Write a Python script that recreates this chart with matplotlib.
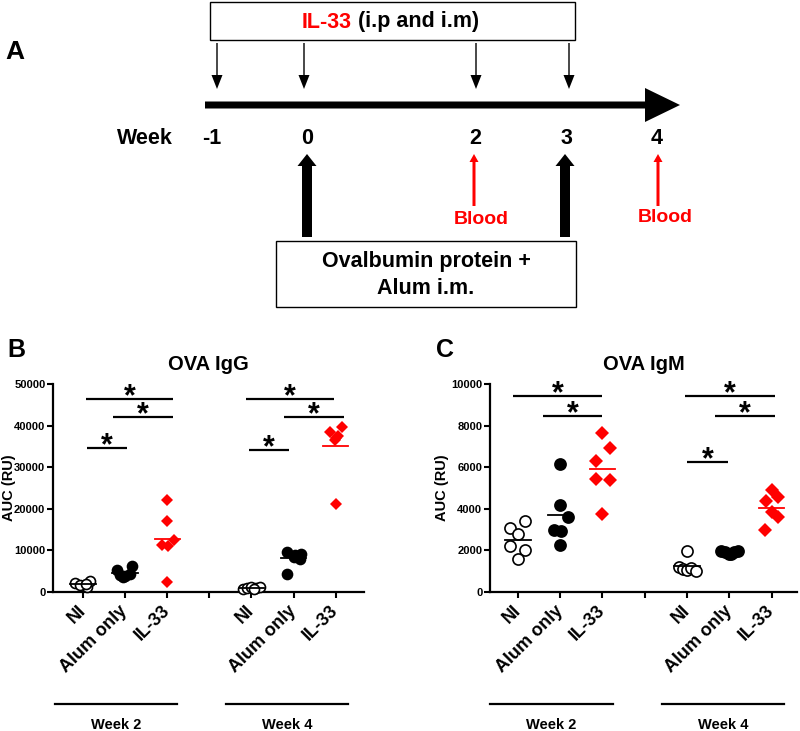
import matplotlib
matplotlib.use("Agg")
import matplotlib.pyplot as plt
from matplotlib.patches import FancyArrow, Rectangle
from matplotlib.lines import Line2D
import numpy as np

plt.rcParams['font.family'] = ['Liberation Sans', 'DejaVu Sans']
plt.rcParams['font.weight'] = 'bold'

# ---------------- data ----------------
groups = ["NI", "Alum only", "IL-33"]
weeks = ["Week 2", "Week 4"]

igg_w2_ni = [2200, 1500, 1200, 2600, 1800, 2000]
igg_w2_alum = [5400, 6200, 4000, 3800, 3500, 4400]
igg_w2_il33 = [22100, 17100, 12500, 11200, 11000, 2300]
igg_w4_ni = [800, 1000, 1200, 900, 1300, 700]
igg_w4_alum = [9700, 9200, 4300, 8400, 7900, 9000]
igg_w4_il33 = [39700, 38500, 37500, 36600, 37000, 21200]

igm_w2_ni = [3400, 3100, 2800, 2200, 2000, 1600]
igm_w2_alum = [6150, 4200, 3600, 3000, 2950, 2250]
igm_w2_il33 = [7650, 6920, 6300, 5450, 5370, 3770]
igm_w4_ni = [1950, 1200, 1100, 1050, 1150, 1000]
igm_w4_alum = [1950, 1900, 1850, 1900, 1950, 1850]
igm_w4_il33 = [4880, 4580, 4380, 3830, 3600, 3000]

# significance brackets: (x_start, x_end, y)
igg_sig = [(1.07, 3.14, 46300), (1.71, 3.14, 42000), (1.10, 2.05, 34600),
           (4.88, 6.95, 46300), (5.76, 7.19, 42000), (4.93, 5.90, 34200)]
igm_sig = [(0.88, 3.0, 9410), (1.59, 3.0, 8480),
           (4.95, 7.08, 9400), (5.66, 7.08, 8480), (5.0, 5.96, 6250)]

timeline_weeks = ["-1", "0", "2", "3", "4"]

# ---------------- style / layout ----------------
RED = '#ff0000'
W = 800; H = 731
fig = plt.figure(figsize=(8.0, 7.31), dpi=100)

# jitter patterns (layout only)
J_B = [
    [-0.18, 0.0, 0.1, 0.17, -0.08, 0.08],
    [-0.18, 0.16, -0.12, 0.0, -0.04, 0.12],
    [0.0, 0.0, 0.15, -0.12, 0.03, 0.0],
    [-0.2, -0.1, 0.0, 0.1, 0.2, 0.05],
    [-0.16, 0.18, -0.16, 0.0, 0.14, 0.03],
    [0.14, -0.14, 0.06, -0.02, 0.0, 0.0],
]
J_C = [
    [0.17, -0.18, 0.0, -0.18, 0.17, 0.0],
    [0.0, 0.0, 0.18, -0.15, 0.02, 0.0],
    [0.0, 0.17, -0.16, -0.16, 0.17, 0.0],
    [0.0, -0.2, -0.1, 0.0, 0.1, 0.2],
    [-0.2, -0.1, 0.0, 0.1, 0.2, 0.05],
    [0.0, 0.16, -0.14, 0.0, 0.16, -0.16],
]

POS = [1, 2, 3, 5, 6, 7]


def px_axes(left, right, top, bottom):
    return [left / W, 1 - bottom / H, (right - left) / W, (bottom - top) / H]


def draw_panel(ax, series, jit, sig, ymax, ystep, title, letter, letter_x, msize,
               label_right_px, ax_left_px, ax_width_px):
    styles = [dict(marker='o', mfc='white', mec='black', mew=1.2, ms=msize),
              dict(marker='o', mfc='black', mec='black', mew=1.2, ms=msize),
              dict(marker='D', mfc=RED, mec=RED, mew=0, ms=msize * 0.85)]
    for i, (vals, p, jj) in enumerate(zip(series, POS, jit)):
        st = styles[i % 3]
        xs = np.full(len(vals), float(p)) + np.array(jj)
        ax.plot(xs, vals, linestyle='none', clip_on=False, zorder=3, **st)
        m = np.mean(vals)
        ax.plot([p - 0.3, p + 0.3], [m, m], color=RED if i % 3 == 2 else 'black',
                lw=1.3, zorder=4, clip_on=False)
    for x1, x2, y in sig:
        ax.plot([x1, x2], [y, y], color='black', lw=1.6, clip_on=False,
                solid_capstyle='butt')
        ax.annotate('*', xy=((x1 + x2) / 2, y), xytext=(0, -4.5),
                    textcoords='offset points', ha='center', va='baseline',
                    fontsize=22, fontweight='bold')
    ax.set_ylim(0, ymax)
    ax.set_yticks(np.arange(0, ymax + 1, ystep))
    ax.set_yticklabels([str(int(v)) for v in np.arange(0, ymax + 1, ystep)],
                       fontsize=8, fontweight='bold')
    ax.set_xticks([1, 2, 3, 4, 5, 6, 7])
    ax.set_xticklabels(groups + [''] + groups, rotation=45, ha='right',
                       va='center', rotation_mode='anchor', fontsize=13,
                       fontweight='bold')
    for s in ['top', 'right']:
        ax.spines[s].set_visible(False)
    for s in ['left', 'bottom']:
        ax.spines[s].set_linewidth(1.6)
    ax.tick_params(axis='both', width=1.5, length=4.5, direction='out')
    ax.tick_params(axis='x', pad=7)
    ax.tick_params(axis='y', pad=1.0)
    ax.set_ylabel('AUC (RU)', fontsize=10.5, fontweight='bold')
    ax.yaxis.set_label_coords((label_right_px - ax_left_px) / ax_width_px, 0.5)
    ax.set_title(title, fontsize=14.5, fontweight='bold', pad=10)
    # week group lines
    tr = ax.get_xaxis_transform()
    for (a, b), wl in zip([(0.34, 3.24), (4.4, 7.3)], weeks):
        ax.add_line(Line2D([a, b], [-0.538, -0.538], transform=tr, color='black',
                           lw=1.6, clip_on=False))
        ax.text((a + b) / 2, -0.64, wl, transform=tr, ha='center', va='center',
                fontsize=10.5, fontweight='bold')
    fig.text(letter_x / W, 1 - 350 / H, letter, fontsize=18, fontweight='bold',
             ha='center', va='center')


# Panel B
axB = fig.add_axes(px_axes(53, 364, 384, 592))
axB.set_xlim(0.29, 7.67)
draw_panel(axB, [igg_w2_ni, igg_w2_alum, igg_w2_il33, igg_w4_ni, igg_w4_alum, igg_w4_il33],
           J_B, igg_sig, 50000, 10000, 'OVA IgG', 'B', 16, 7.2, 16, 53, 311)

# Panel C
axC = fig.add_axes(px_axes(490, 797, 384, 592))
axC.set_xlim(0.34, 7.6)
draw_panel(axC, [igm_w2_ni, igm_w2_alum, igm_w2_il33, igm_w4_ni, igm_w4_alum, igm_w4_il33],
           J_C, igm_sig, 10000, 2000, 'OVA IgM', 'C', 445, 8.0, 449, 490, 307)

# ---------------- Panel A (schematic) ----------------
axA = fig.add_axes([0, 0, 1, 1], zorder=-1)
axA.set_xlim(0, W)
axA.set_ylim(H, 0)
axA.axis('off')

axA.text(15, 52, 'A', fontsize=19, fontweight='bold', ha='center', va='center')

# top box
axA.add_patch(Rectangle((210, 2), 365, 38, fill=False, ec='black', lw=1.0))
axA.text(352, 22, 'IL-33', color=RED, fontsize=15.5, fontweight='bold',
         ha='right', va='center')
axA.text(358, 22, '(i.p and i.m)', color='black', fontsize=15.5, fontweight='bold',
         ha='left', va='center')

# thin down arrows
for x in [217, 304, 476, 569]:
    axA.add_patch(FancyArrow(x, 43, 0, 46, width=1.4, head_width=11, head_length=14,
                             length_includes_head=True, color='black', lw=0))

# main timeline arrow
axA.add_patch(FancyArrow(205, 105, 475, 0, width=7, head_width=34, head_length=35,
                         length_includes_head=True, color='black', lw=0))

# week labels
axA.text(145, 139, 'Week', fontsize=15.5, fontweight='bold', ha='center', va='center')
for x, lab in zip([212, 307, 475, 566, 657], timeline_weeks):
    axA.text(x, 139, lab, fontsize=15.5, fontweight='bold', ha='center', va='center')

# thick up arrows (immunisation)
for x in [307, 565]:
    axA.add_patch(FancyArrow(x, 237, 0, -83, width=10, head_width=19, head_length=12,
                             length_includes_head=True, color='black', lw=0))

# red blood arrows
for x in [474, 658]:
    axA.add_patch(FancyArrow(x, 206, 0, -52, width=3, head_width=9, head_length=8,
                             length_includes_head=True, color=RED, lw=0))
axA.text(481, 220, 'Blood', color=RED, fontsize=14, fontweight='bold',
         ha='center', va='center')
axA.text(665, 218, 'Blood', color=RED, fontsize=14, fontweight='bold',
         ha='center', va='center')

# bottom box
axA.add_patch(Rectangle((276, 241), 300, 66, fill=False, ec='black', lw=1.0))
axA.text(426, 262, 'Ovalbumin protein +', fontsize=15.5, fontweight='bold',
         ha='center', va='center')
axA.text(426, 288, 'Alum i.m.', fontsize=15.5, fontweight='bold',
         ha='center', va='center')

fig.savefig('out.png', dpi=100)
